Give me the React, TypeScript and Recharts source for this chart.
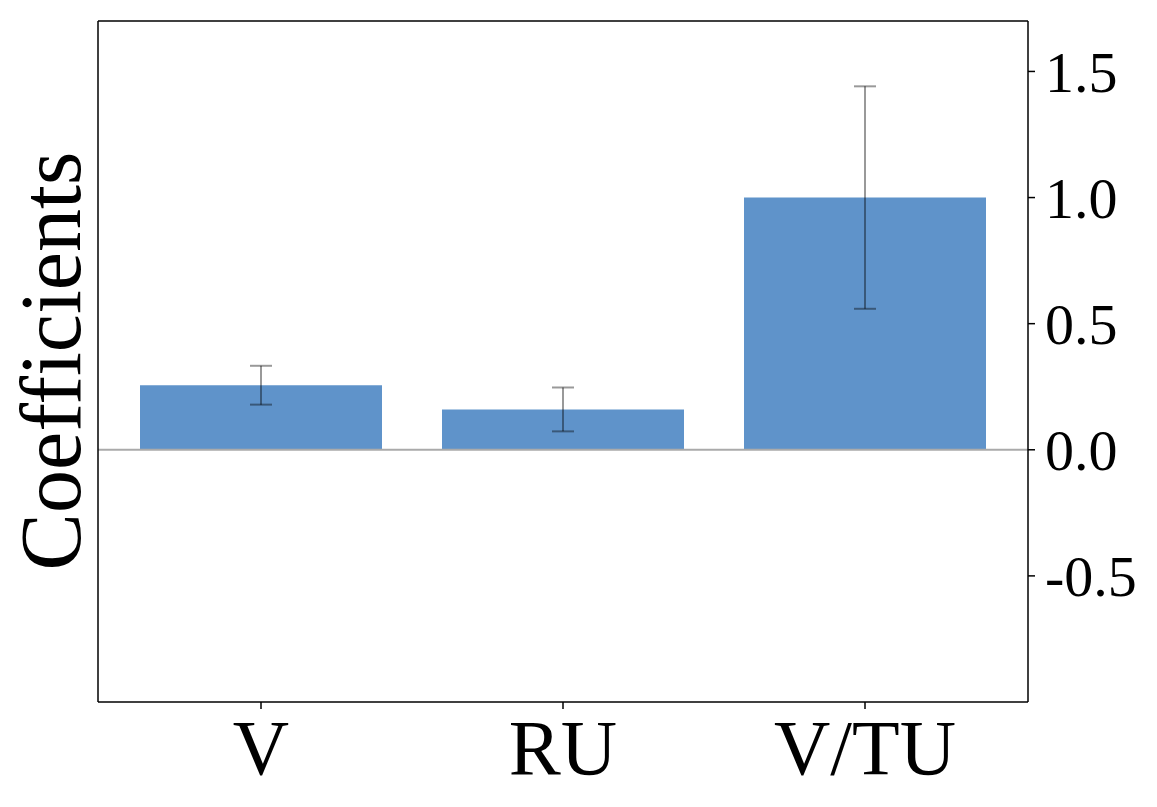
import React from 'react';
import { BarChart, Bar, XAxis, YAxis, ErrorBar, ReferenceLine } from 'recharts';

// Values
const categories = ['V', 'RU', 'V/TU'];
const coefficients = [0.256, 0.160, 1.0];
const errors = [0.077, 0.087, 0.441];
const yTicks = [-0.5, 0, 0.5, 1.0, 1.5];

const data = categories.map((name, i) => ({ name, value: coefficients[i], err: errors[i] }));

const FONT = '"Liberation Serif", "Times New Roman", serif';

const YLabel = () => (
  <text
    x={80}
    y={361}
    transform="rotate(-90, 80, 361)"
    textAnchor="middle"
    fontFamily={FONT}
    fontSize={86}
    fill="#000"
  >
    Coefficients
  </text>
);

export default function App() {
  return (
    <div style={{ position: 'absolute', left: 0, top: 0, background: '#fff' }}>
      <BarChart width={1157} height={807} data={data} margin={{ top: 21, right: 0, bottom: 0, left: 0 }}>
        <XAxis
          dataKey="name"
          height={105}
          padding={{ left: 12, right: 12 }}
          axisLine={{ stroke: '#000', strokeWidth: 1.5 }}
          tickLine={{ stroke: '#000', strokeWidth: 1.5 }}
          tickSize={7}
          tickMargin={10}
          tick={{ fill: '#000', fontSize: 78, fontFamily: FONT }}
        />
        <YAxis
          yAxisId="label"
          orientation="left"
          width={98}
          domain={[-1.0, 1.7]}
          tick={false}
          axisLine={{ stroke: '#000', strokeWidth: 1.5 }}
          tickLine={false}
          label={{ content: () => <YLabel /> }}
        />
        <YAxis
          orientation="right"
          width={129}
          domain={[-1.0, 1.7]}
          ticks={yTicks}
          allowDataOverflow
          tickFormatter={(v: number) => v.toFixed(1)}
          axisLine={{ stroke: '#000', strokeWidth: 1.5 }}
          tickLine={{ stroke: '#000', strokeWidth: 1.5 }}
          tickSize={7}
          tickMargin={10}
          tick={{ fill: '#000', fontSize: 58, fontFamily: FONT }}
        />
        <ReferenceLine y={1.7} stroke="#000" strokeWidth={1.5} />
        <ReferenceLine y={0} stroke="#aaaaaa" strokeWidth={2} />
        <Bar dataKey="value" fill="#5f93ca" barSize={242} isAnimationActive={false}>
          <ErrorBar dataKey="err" direction="y" width={11} stroke="rgba(0,0,0,0.4)" strokeWidth={2} isAnimationActive={false} />
        </Bar>
      </BarChart>
    </div>
  );
}
